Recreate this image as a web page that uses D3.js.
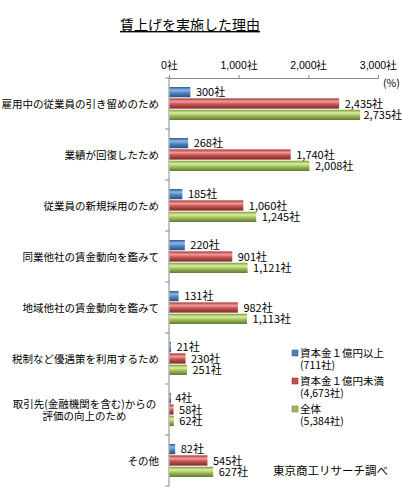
<!DOCTYPE html>
<html>
  <head>
    <meta charset="utf-8">
    <title>賃上げを実施した理由</title>
    <style>
      body { margin: 0; background: #fff; }
      svg { display: block; font-family: "Noto Sans CJK JP", sans-serif; }
    </style>
  </head>
  <body>
    <script src="https://d3js.org/d3.v7.min.js"></script>
    <svg id="chart" width="403" height="491"></svg>
    <script>
      // data
      const categories = [
        '雇用中の従業員の引き留めのため',
        '業績が回復したため',
        '従業員の新規採用のため',
        '同業他社の賃金動向を鑑みて',
        '地域他社の賃金動向を鑑みて',
        '税制など優遇策を利用するため',
        '取引先(金融機関を含む)からの\n評価の向上のため',
        'その他'
      ]
      const large = [300, 268, 185, 220, 131, 21, 4, 82]
      const small = [2435, 1740, 1060, 901, 982, 230, 58, 545]
      const total = [2735, 2008, 1245, 1121, 1113, 251, 62, 627]
      const seriesNames = ['資本金１億円以上', '資本金１億円未満', '全体']
      const seriesCounts = ['(711社)', '(4,673社)', '(5,384社)']
      const xTicks = [0, 1000, 2000, 3000]

      const series = [large, small, total]
      const colors = [
        ['#2a5a98', '#8fb4e8', '#4f81bd', '#2b4f80'],
        ['#a83532', '#f09a98', '#c0504d', '#7e2a28'],
        ['#7c9a38', '#dcef9c', '#9bbb59', '#627a2e']
      ]

      const svg = d3.select('#chart')

      // gradients to get the shiny bar look
      const defs = svg.append('defs')
      colors.forEach((c, i) => {
        const g = defs.append('linearGradient')
          .attr('id', 'grad' + i)
          .attr('x1', 0).attr('y1', 0).attr('x2', 0).attr('y2', 1)
        g.append('stop').attr('offset', '0%').attr('stop-color', c[0])
        g.append('stop').attr('offset', '30%').attr('stop-color', c[1])
        g.append('stop').attr('offset', '60%').attr('stop-color', c[2])
        g.append('stop').attr('offset', '100%').attr('stop-color', c[3])
      })

      // title
      svg.append('text')
        .attr('x', 190).attr('y', 30)
        .attr('text-anchor', 'middle')
        .style('font-size', '14px')
        .style('text-decoration', 'underline')
        .text('賃上げを実施した理由')

      const x = d3.scaleLinear().domain([0, 3000]).range([169, 378])
      const y = d3.scaleBand().domain(d3.range(categories.length)).range([78, 486])
      const ySub = d3.scaleBand().domain([0, 1, 2]).range([9, 42]).paddingInner(0.1)

      // top axis
      const xAxis = svg.append('g')
        .attr('transform', 'translate(0,78)')
        .call(d3.axisTop(x).tickValues(xTicks).tickSize(3).tickPadding(6)
          .tickFormat(d => d3.format(',')(d) + '社'))
      xAxis.select('.domain').attr('stroke', '#888')
      xAxis.selectAll('.tick line').attr('stroke', '#888')
      xAxis.selectAll('.tick text').style('font-size', '10.5px').attr('fill', '#000')

      svg.append('text')
        .attr('x', 383).attr('y', 87)
        .style('font-size', '10.5px')
        .text('(%)')

      // left axis
      const yAxis = svg.append('g')
        .attr('transform', 'translate(169,0)')
      yAxis.append('line')
        .attr('x1', 0).attr('x2', 0)
        .attr('y1', y.range()[0]).attr('y2', y.range()[1])
        .attr('stroke', '#888')
      yAxis.selectAll('line.tk')
        .data(d3.range(categories.length + 1))
        .join('line')
          .attr('class', 'tk')
          .attr('x1', -4).attr('x2', 0)
          .attr('y1', d => 78 + d * y.step())
          .attr('y2', d => 78 + d * y.step())
          .attr('stroke', '#888')

      // category labels
      svg.selectAll('text.cat')
        .data(categories)
        .join('text')
          .attr('class', 'cat')
          .style('font-size', '10.5px')
          .each(function(d, i) {
            const lines = d.split('\n')
            const t = d3.select(this)
            const cy = y(i) + y.bandwidth() / 2
            if (lines.length === 1) {
              t.attr('x', 159).attr('y', cy + 4).attr('text-anchor', 'end').text(d)
            } else {
              t.attr('text-anchor', 'middle')
              lines.forEach((ln, j) => {
                t.append('tspan')
                  .attr('x', 84.5)
                  .attr('y', cy + 4 + (j - (lines.length - 1) / 2) * 12)
                  .text(ln)
              })
            }
          })

      // bars
      const groups = svg.selectAll('g.grp')
        .data(categories.map((c, i) => series.map(s => s[i])))
        .join('g')
          .attr('class', 'grp')
          .attr('transform', (d, i) => `translate(0,${y(i)})`)

      groups.selectAll('rect')
        .data(d => d)
        .join('rect')
          .attr('x', x(0) + 0.5)
          .attr('y', (d, j) => ySub(j))
          .attr('width', d => Math.max(1.5, x(d) - x(0)))
          .attr('height', ySub.bandwidth())
          .attr('fill', (d, j) => `url(#grad${j})`)

      groups.selectAll('text')
        .data(d => d)
        .join('text')
          .attr('x', d => x(d) + 6)
          .attr('y', (d, j) => ySub(j) + ySub.bandwidth() / 2 + 4)
          .style('font-size', '11px')
          .text(d => d3.format(',')(d) + '社')
          .each(function() {
            const w = this.getComputedTextLength()
            const xx = +d3.select(this).attr('x')
            if (xx + w > 402) d3.select(this).attr('x', 402 - w)
          })

      // legend
      const legend = svg.append('g')
      seriesNames.forEach((name, i) => {
        const ly = 353 + i * 28
        legend.append('rect')
          .attr('x', 292).attr('y', ly - 3)
          .attr('width', 6).attr('height', 6)
          .attr('fill', colors[i][2])
          .attr('stroke', colors[i][3]).attr('stroke-width', 0.5)
        legend.append('text')
          .attr('x', 300).attr('y', ly + 4)
          .style('font-size', '10.5px')
          .text(name)
        legend.append('text')
          .attr('x', 300).attr('y', ly + 16)
          .style('font-size', '10.5px')
          .text(seriesCounts[i])
      })

      svg.append('text')
        .attr('x', 273).attr('y', 475)
        .style('font-size', '11.5px')
        .text('東京商工リサーチ調べ')
    </script>
  </body>
</html>
